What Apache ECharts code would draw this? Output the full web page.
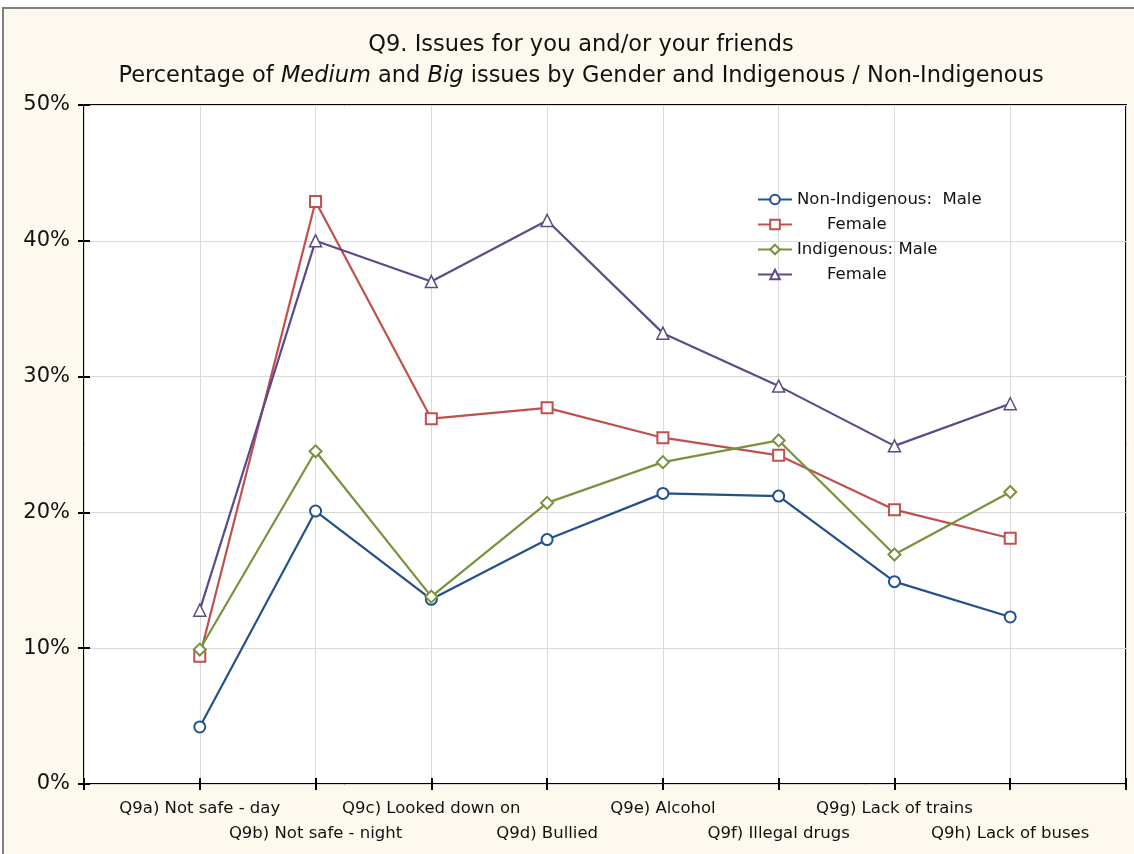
<!DOCTYPE html>
<html lang="en">
<head>
  <meta charset="UTF-8">
  <title>Q9. Issues for you and/or your friends</title>
  <style>
    body { margin: 0; background: #fff; }
    #frame { position: absolute; left: 2px; top: 7px; width: 1140px; height: 860px; border: 2px solid #808080; background: #fdf9ef; }
    #main { position: absolute; left: 0; top: 0; width: 1134px; height: 854px; }
  </style>
</head>
<body>
  <div id="frame"></div>
  <div id="main"></div>

  <script src="https://cdn.jsdelivr.net/npm/echarts@6/dist/echarts.min.js"></script>

  <script>
    var categories = ['Q9a) Not safe - day', 'Q9b) Not safe - night', 'Q9c) Looked down on', 'Q9d) Bullied',
      'Q9e) Alcohol', 'Q9f) Illegal drugs', 'Q9g) Lack of trains', 'Q9h) Lack of buses']
    var nonIndMale = [4.2, 20.1, 13.6, 18.0, 21.4, 21.2, 14.9, 12.3]
    var nonIndFemale = [9.4, 42.9, 26.9, 27.7, 25.5, 24.2, 20.2, 18.1]
    var indMale = [9.9, 24.5, 13.8, 20.7, 23.7, 25.3, 16.9, 21.5]
    var indFemale = [12.8, 40.0, 37.0, 41.5, 33.2, 29.3, 24.9, 28.0]
    var yTicks = [0, 10, 20, 30, 40, 50]

    var legendText = {
      'Non-Indigenous: Male': 'Non-Indigenous:  Male',
      'Non-Indigenous: Female': '{ind|Female}',
      'Indigenous: Male': 'Indigenous: Male',
      'Indigenous: Female': '{ind|Female}'
    }

    var FONT = 'DejaVu Sans, Liberation Sans, sans-serif'

    // categories sit at 1..8 on a 0..9 axis
    function pts(arr) {
      return arr.map(function (v, i) { return [i + 1, v] })
    }

    function makeSeries(name, data, color, symbol, size, bw) {
      return {
        name: name,
        type: 'line',
        xAxisIndex: 0,
        yAxisIndex: 0,
        data: pts(data),
        symbol: symbol,
        symbolSize: size,
        showAllSymbol: true,
        lineStyle: { color: color, width: 2.2 },
        itemStyle: { color: '#fff', borderColor: color, borderWidth: bw },
        emphasis: { disabled: true }
      }
    }

    // frame comes from the grid border, axes only add inward ticks
    // (a fresh object for every axis)
    function tickIn() {
      return { show: true, inside: true, length: 6, lineStyle: { color: '#000', width: 2 } }
    }

    var myChart = echarts.init(document.getElementById('main'))

    var options = {
      backgroundColor: 'transparent',
      animation: false,
      textStyle: { fontFamily: FONT, color: '#111' },
      title: {
        text: 'Q9. Issues for you and/or your friends\nPercentage of {i|Medium} and {i|Big} issues by Gender and Indigenous / Non-Indigenous',
        left: 576,
        top: 25,
        textAlign: 'center',
        textStyle: {
          fontFamily: FONT,
          fontSize: 22.5,
          fontWeight: 'normal',
          color: '#111',
          lineHeight: 31,
          rich: {
            i: { fontFamily: FONT, fontSize: 22.5, fontStyle: 'italic', color: '#111', lineHeight: 31 }
          }
        }
      },
      legend: {
        orient: 'vertical',
        left: 752,
        top: 186,
        itemWidth: 34,
        itemHeight: 12,
        itemGap: 8,
        textStyle: {
          fontFamily: FONT,
          fontSize: 16.5,
          color: '#111',
          rich: { ind: { fontFamily: FONT, fontSize: 16.5, color: '#111', padding: [0, 0, 0, 30] } }
        },
        formatter: function (name) { return legendText[name] }
      },
      grid: {
        left: 84,
        right: 8,
        top: 105,
        bottom: 70,
        show: true,
        backgroundColor: '#fff',
        borderColor: '#000',
        borderWidth: 2
      },
      xAxis: [
        {
          type: 'value',
          position: 'bottom',
          min: 0,
          max: 9,
          interval: 1,
          axisLine: { show: false },
          axisTick: tickIn(),
          splitLine: { show: true, lineStyle: { color: '#dadada', width: 1 } },
          axisLabel: {
            fontFamily: FONT,
            fontSize: 16.5,
            color: '#111',
            lineHeight: 25,
            margin: 12,
            formatter: function (v) {
              var i = v - 1
              if (i < 0 || i >= categories.length) return ''
              return i % 2 ? '\n' + categories[i] : categories[i]
            }
          }
        },
        {
          type: 'value',
          position: 'top',
          min: 0,
          max: 9,
          interval: 1,
          axisLine: { show: false },
          axisTick: tickIn(),
          splitLine: { show: false },
          axisLabel: { show: false }
        }
      ],
      yAxis: [
        {
          type: 'value',
          position: 'left',
          min: yTicks[0],
          max: yTicks[yTicks.length - 1],
          interval: 10,
          axisLine: { show: false },
          axisTick: tickIn(),
          splitLine: { show: true, lineStyle: { color: '#dadada', width: 1 } },
          axisLabel: { fontFamily: FONT, fontSize: 21, color: '#111', margin: 14, formatter: '{value}%' }
        },
        {
          type: 'value',
          position: 'right',
          min: yTicks[0],
          max: yTicks[yTicks.length - 1],
          interval: 10,
          axisLine: { show: false },
          axisTick: tickIn(),
          splitLine: { show: false },
          axisLabel: { show: false }
        }
      ],
      series: [
        makeSeries('Non-Indigenous: Male', nonIndMale, '#24508c', 'circle', 11, 2),
        makeSeries('Non-Indigenous: Female', nonIndFemale, '#c0504d', 'rect', 11, 2),
        makeSeries('Indigenous: Male', indMale, '#77933c', 'diamond', 12, 2),
        makeSeries('Indigenous: Female', indFemale, '#5d4a88', 'triangle', 12, 1.5)
      ]
    }

    myChart.setOption(options)

    window.onresize = function () {
      myChart.resize()
    }
  </script>
</body>
</html>
